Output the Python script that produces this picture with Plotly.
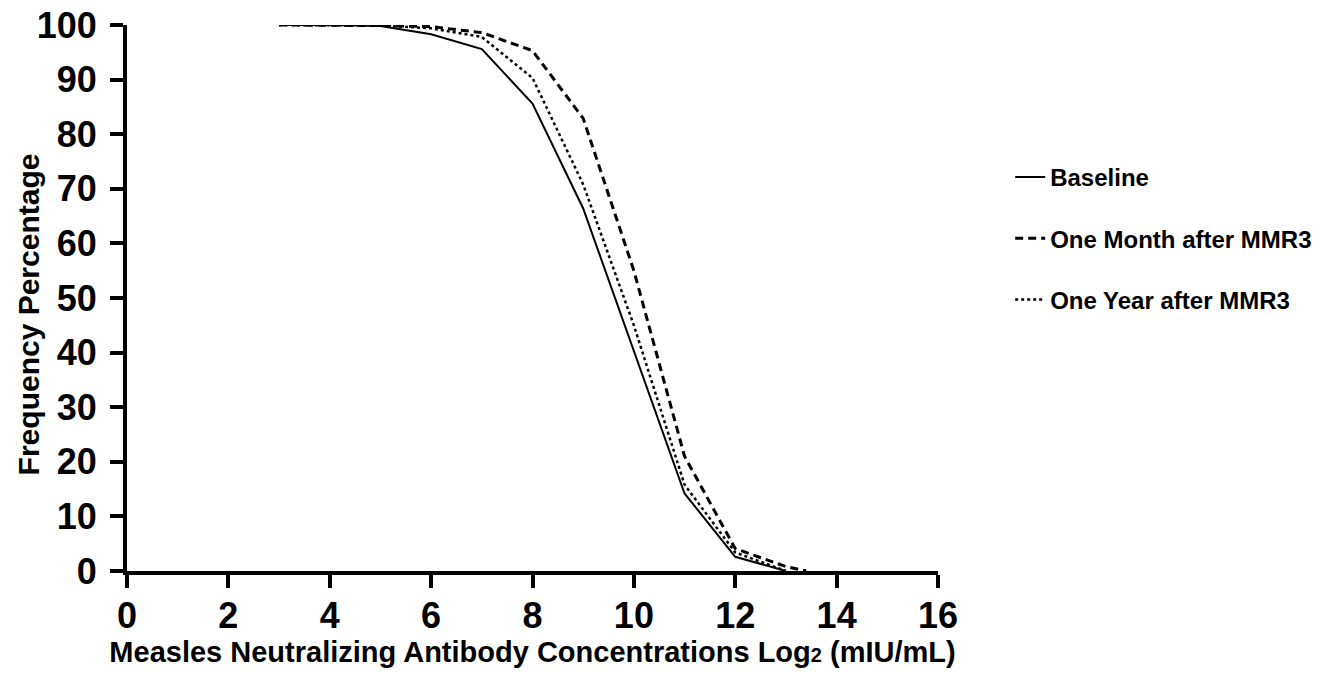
import plotly.graph_objects as go

x_log2 = [3, 4, 5, 6, 7, 8, 9, 10, 11, 12, 13]
baseline = [100, 100, 99.8, 98.3, 95.6, 85.6, 66.4, 40.3, 14.2, 2.6, 0.0]
one_month_x = [3, 4, 5, 6, 7, 8, 9, 10, 11, 12, 13, 13.4]
one_month = [100, 100, 99.9, 99.7, 98.6, 95.3, 82.9, 55.0, 21.0, 4.1, 0.8, 0.0]
one_year = [100, 100, 99.9, 99.4, 97.8, 90.3, 70.8, 45.0, 15.8, 3.4, 0.0]

x_ticks = [0, 2, 4, 6, 8, 10, 12, 14, 16]
y_ticks = [0, 10, 20, 30, 40, 50, 60, 70, 80, 90, 100]

FONT = "Arial, Liberation Sans, sans-serif"

fig = go.Figure()
fig.add_trace(go.Scatter(x=x_log2, y=baseline, mode="lines", name="Baseline",
                         legendgroup="a",
                         line=dict(color="black", width=2)))
fig.add_trace(go.Scatter(x=one_month_x, y=one_month, mode="lines", name="One Month after MMR3",
                         legendgroup="b",
                         line=dict(color="black", width=3, dash="8px,5px")))
fig.add_trace(go.Scatter(x=x_log2, y=one_year, mode="lines", name="One Year after MMR3",
                         legendgroup="c",
                         line=dict(color="black", width=2.5, dash="dot")))

fig.update_layout(
    width=1335, height=686,
    margin=dict(l=127, r=397, t=25, b=115),
    plot_bgcolor="white", paper_bgcolor="white",
    font=dict(family=FONT, color="black"),
    showlegend=True,
    legend=dict(x=1.089, y=0.762, xanchor="left", yanchor="top",
                font=dict(family=FONT, size=24, color="black", weight="bold"),
                tracegroupgap=27, bgcolor="rgba(0,0,0,0)"),
    xaxis=dict(range=[0, 16], tickvals=x_ticks, ticks="outside", ticklen=13, tickwidth=4,
               tickcolor="black", showline=True, linewidth=4, linecolor="black",
               showgrid=False, zeroline=False, automargin=False, ticklabelstandoff=-3,
               ticklabeloverflow="allow",
               tickfont=dict(family=FONT, size=36, color="black", weight="bold"),
               title=dict(text="Measles Neutralizing Antibody Concentrations Log<span style='font-size:20px'>2</span> (mIU/mL)",
                          font=dict(family=FONT, size=29, color="black", weight="bold"),
                          standoff=0)),
    yaxis=dict(range=[0, 100], tickvals=y_ticks, ticks="outside", ticklen=13, tickwidth=4,
               tickcolor="black", showline=True, linewidth=4, linecolor="black",
               showgrid=False, zeroline=False, ticklabelstandoff=6, automargin=False,
               ticklabeloverflow="allow",
               tickfont=dict(family=FONT, size=36, color="black", weight="bold")),
    annotations=[dict(text="Frequency Percentage", textangle=-90,
                      xref="paper", yref="paper", x=0, y=0.47,
                      xanchor="center", yanchor="middle", xshift=-99,
                      showarrow=False,
                      font=dict(family=FONT, size=30, color="black", weight="bold"))],
)

fig.write_html("out.html", config={"displayModeBar": False},
               post_script="document.body.style.margin='0';")
